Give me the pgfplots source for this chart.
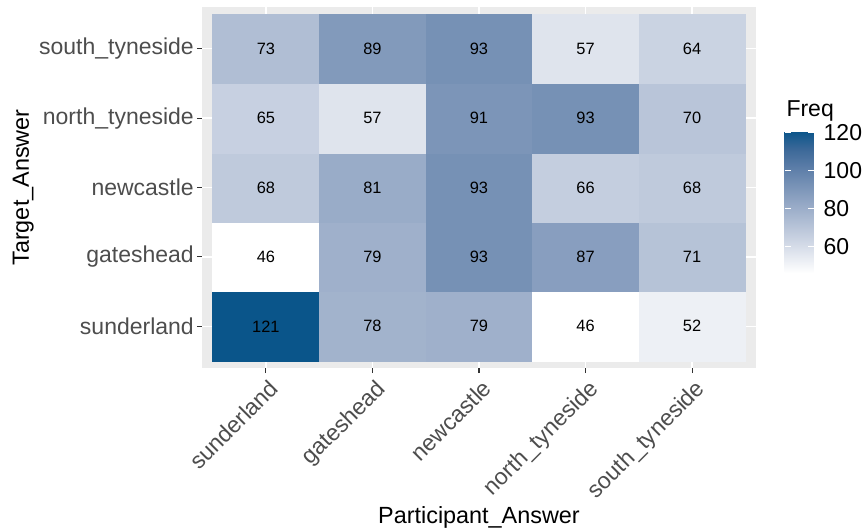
\documentclass[border=0pt]{standalone}
\usepackage{pgfplots}
\pgfplotsset{compat=1.18}
\usepackage{pgfplotstable}
\usepackage{fontspec}
\setmainfont{Liberation Sans}
\definecolor{bggrey}{HTML}{EBEBEB}
\definecolor{tickgrey}{HTML}{333333}
\definecolor{labgrey}{HTML}{4D4D4D}
\pgfplotstableread{
x y v
1 1 121
2 1 78
3 1 79
4 1 46
5 1 52
1 2 46
2 2 79
3 2 93
4 2 87
5 2 71
1 3 68
2 3 81
3 3 93
4 3 66
5 3 68
1 4 65
2 4 57
3 4 91
4 4 93
5 4 70
1 5 73
2 5 89
3 5 93
4 5 57
5 5 64
}\freqtable
\begin{document}
\begin{tikzpicture}
\useasboundingbox (-202bp,-162bp) rectangle (661bp,368bp);
\begin{axis}[
  name=main,
  at={(0,0)}, anchor=south west,
  scale only axis, width=554bp, height=361bp,
  xmin=0.4, xmax=5.6, ymin=0.4, ymax=5.6,
  axis background/.style={fill=bggrey},
  axis line style={draw=none},
  grid=major, major grid style={white, line width=1.6bp},
  xtick={1,2,3,4,5}, ytick={1,2,3,4,5},
  xticklabels={sunderland,gateshead,newcastle,north\_tyneside,south\_tyneside},
  yticklabels={sunderland,gateshead,newcastle,north\_tyneside,south\_tyneside},
  tick align=outside, xtick pos=left, ytick pos=left,
  major tick length=5bp,
  tick style={color=tickgrey, line width=1.07bp},
  ticklabel style={font=\fontsize{23bp}{27bp}\selectfont, text=labgrey, inner sep=0pt},
  yticklabel style={anchor=east, xshift=-3bp},
  xticklabel style={rotate=45, anchor=north east, xshift=-2bp, yshift=-5bp},
  label style={font=\fontsize{23.4bp}{28bp}\selectfont, text=black},
  xlabel={Participant\_Answer},
  xlabel style={at={(axis description cs:0.5,-0.4294)}, anchor=base},
  ylabel={Target\_Answer},
  ylabel style={at={(axis description cs:-0.3123,0.5)}, anchor=base},
  colormap={ggblue}{rgb255(0)=(255,255,255); rgb255(2)=(200,209,225); rgb255(4)=(146,166,196); rgb255(6)=(90,124,167); rgb255(7)=(59,104,152); rgb255(8)=(10,85,138)},
  point meta min=46, point meta max=121,
  colorbar,
  colorbar/width=29bp,
  colorbar style={
    scale only axis, width=29bp, height=142bp,
    at={(parent axis.south east)}, anchor=south west,
    xshift=20bp, yshift=95bp,
    ytick={60,80,100,120},
    axis line style={draw=none},
    tick align=inside, ytick pos=both, yticklabel pos=right,
    major tick length=6bp,
    ytick style={color=white, line width=1.07bp},
    /pgf/number format/assume math mode=true,
    yticklabel shift=10bp,
    yticklabel style={font=\fontsize{23bp}{27bp}\selectfont, text=black, inner sep=0pt, anchor=west},
  },
]
\addplot[matrix plot*, mesh/cols=5, point meta=explicit] table[x=x, y=y, meta=v] {\freqtable};
\addplot[only marks, mark=*, mark options={draw opacity=0, fill opacity=0},
  nodes near coords, nodes near coords align=center,
  point meta=explicit symbolic,
  nodes near coords style={font=\fontsize{16.4bp}{19bp}\selectfont, text=black, anchor=center, text opacity=1}]
  table[x=x, y=y, meta=v] {\freqtable};
\end{axis}
\node[anchor=base west, font=\fontsize{23bp}{27bp}\selectfont] at (581bp,251bp) {Freq};
\end{tikzpicture}
\end{document}
